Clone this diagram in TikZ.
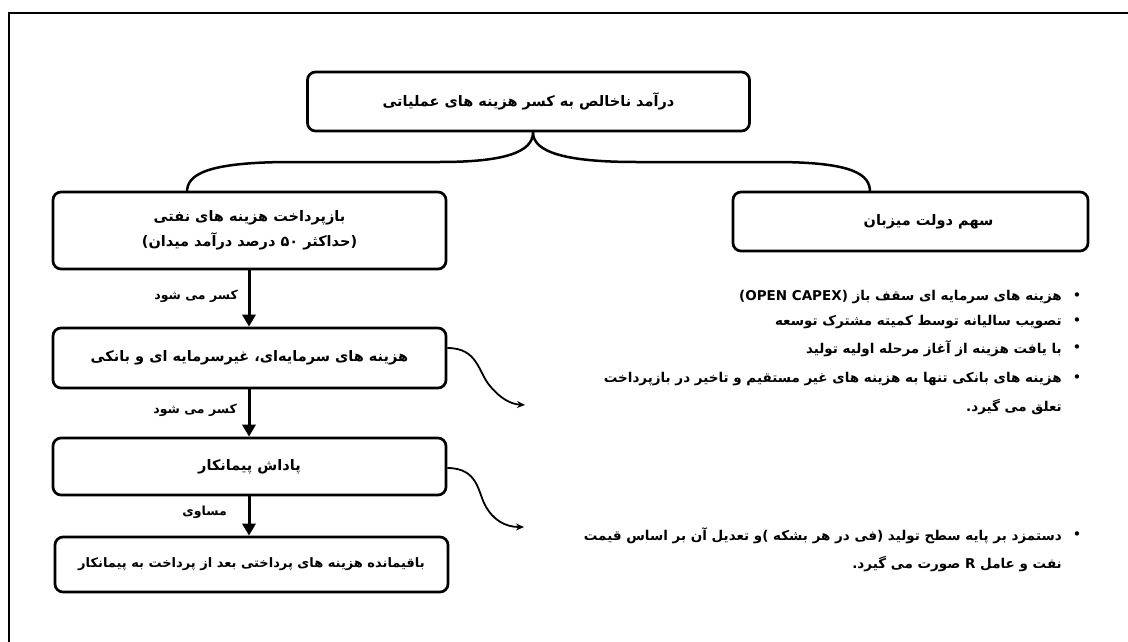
\documentclass[tikz,border=0pt]{standalone}
\usepackage{fontspec}
\setmainfont{DejaVu Sans}
\newfontfamily\fa[Script=Arabic]{DejaVu Sans}
\TeXXeTstate=1
\usetikzlibrary{arrows.meta}
\newcommand{\faR}[1]{\beginR #1\endR}
\tikzset{
  box/.style={draw, line width=2.7pt, rounded corners=8pt, inner sep=0pt, align=center, font=\fa\bfseries\fontsize{14.5}{25}\selectfont},
  lbl/.style={inner sep=0pt, font=\fa\bfseries\fontsize{12.5}{14}\selectfont},
  btxt/.style={inner sep=0pt, anchor=east, font=\fa\bfseries\fontsize{13.5}{15}\selectfont},
  bul/.style={inner sep=0pt, font=\fontsize{15}{16}\selectfont},
  down/.style={line width=3pt, -{Triangle[length=12pt,width=13pt]}},
  curvy/.style={line width=1.8pt, -{Stealth[length=8pt,width=7pt]}},
  brace/.style={line width=2.5pt}
}
\begin{document}
\begin{tikzpicture}[x=1pt,y=-1pt]
\useasboundingbox (0,0) rectangle (1128,642);
\draw[line width=2pt] (9,642) -- (9,13) -- (1128,13);
% boxes
\node[box, minimum width=442pt, minimum height=59pt] (top) at (528.5,101.5) {\faR{درآمد ناخالص به کسر هزینه های عملیاتی}};
\node[box, minimum width=393pt, minimum height=77pt] (b1) at (249.5,230.5) {\faR{بازپرداخت هزینه های نفتی}\\ \faR{(حداکثر ۵۰ درصد درآمد میدان)}};
\node[box, minimum width=355pt, minimum height=59pt] (gov) at (910.5,221.5) {\hspace*{36pt}\faR{سهم دولت میزبان}};
\node[box, minimum width=393pt, minimum height=60pt] (b2) at (249.5,358) {\faR{هزینه های سرمایه‌ای، غیرسرمایه ای و بانکی}};
\node[box, minimum width=393pt, minimum height=57pt] (b3) at (249.5,466.5) {\faR{پاداش پیمانکار}};
\node[box, minimum width=393pt, minimum height=55pt, font=\fa\bfseries\fontsize{13}{15}\selectfont] (b4) at (251.5,564.5) {\faR{باقیمانده هزینه های پرداختی بعد از پرداخت به پیمانکار}};
% brace
\coordinate (bl) at (187,192);
\coordinate (br) at (870,192);
\draw[brace] (top.south -| 533,0) .. controls (533,152) and (505,162) .. (440,162) -- (292,162) .. controls (205,162) and (187,175) .. (bl);
\draw[brace] (top.south -| 533,0) .. controls (533,152) and (565,162) .. (636,162) -- (774,162) .. controls (855,162) and (870,175) .. (br);
% down arrows
\draw[down] (b1.south -| 249,0) -- (b2.north -| 249,0);
\draw[down] (b2.south -| 249,0) -- (b3.north -| 249,0);
\draw[down] (b3.south -| 249,0) -- (b4.north -| 249,0);
\node[lbl, anchor=east] (l1) at (238,296) {\faR{کسر می شود}};
\node[lbl, anchor=east] (l2) at (237,410) {\faR{کسر می شود}};
\node[lbl, anchor=east] (l3) at (227,512) {\faR{مساوی}};
% bullets
\node[btxt] (t1) at (1062,297) {\faR{هزینه های سرمایه ای سقف باز \beginL(OPEN CAPEX)\endL}};
\node[btxt] (t2) at (1062,322) {\faR{تصویب سالیانه توسط کمیته مشترک توسعه}};
\node[btxt] (t3) at (1062,349) {\faR{با یافت هزینه از آغاز مرحله اولیه تولید}};
\node[btxt] (t4) at (1062,379) {\faR{هزینه های بانکی تنها به هزینه های غیر مستقیم و تاخیر در بازپرداخت}};
\node[btxt] (t4b) at (1062,407) {\faR{تعلق می گیرد.}};
\node[btxt] (t5) at (1062,536) {\faR{دستمزد بر پایه سطح تولید (فی در هر بشکه )و تعدیل آن بر اساس قیمت}};
\node[btxt] (t5b) at (1062,564) {\faR{نفت و عامل \beginL R\endL{} صورت می گیرد.}};
\foreach \n/\yy in {1/297,2/322,3/349,4/379,5/536} \node[bul] (d\n) at (1077,\yy) {•};
% curvy arrows
\coordinate (c1) at (525,405);
\coordinate (c2) at (524,527);
\draw[curvy] (b2.east |- 0,348) .. controls (478,348) and (478,372) .. (490,386) .. controls (500,398) and (510,404) .. (c1);
\draw[curvy] (b3.east |- 0,468) .. controls (478,468) and (478,492) .. (485,505) .. controls (493,520) and (505,527) .. (c2);
\end{tikzpicture}
\end{document}
